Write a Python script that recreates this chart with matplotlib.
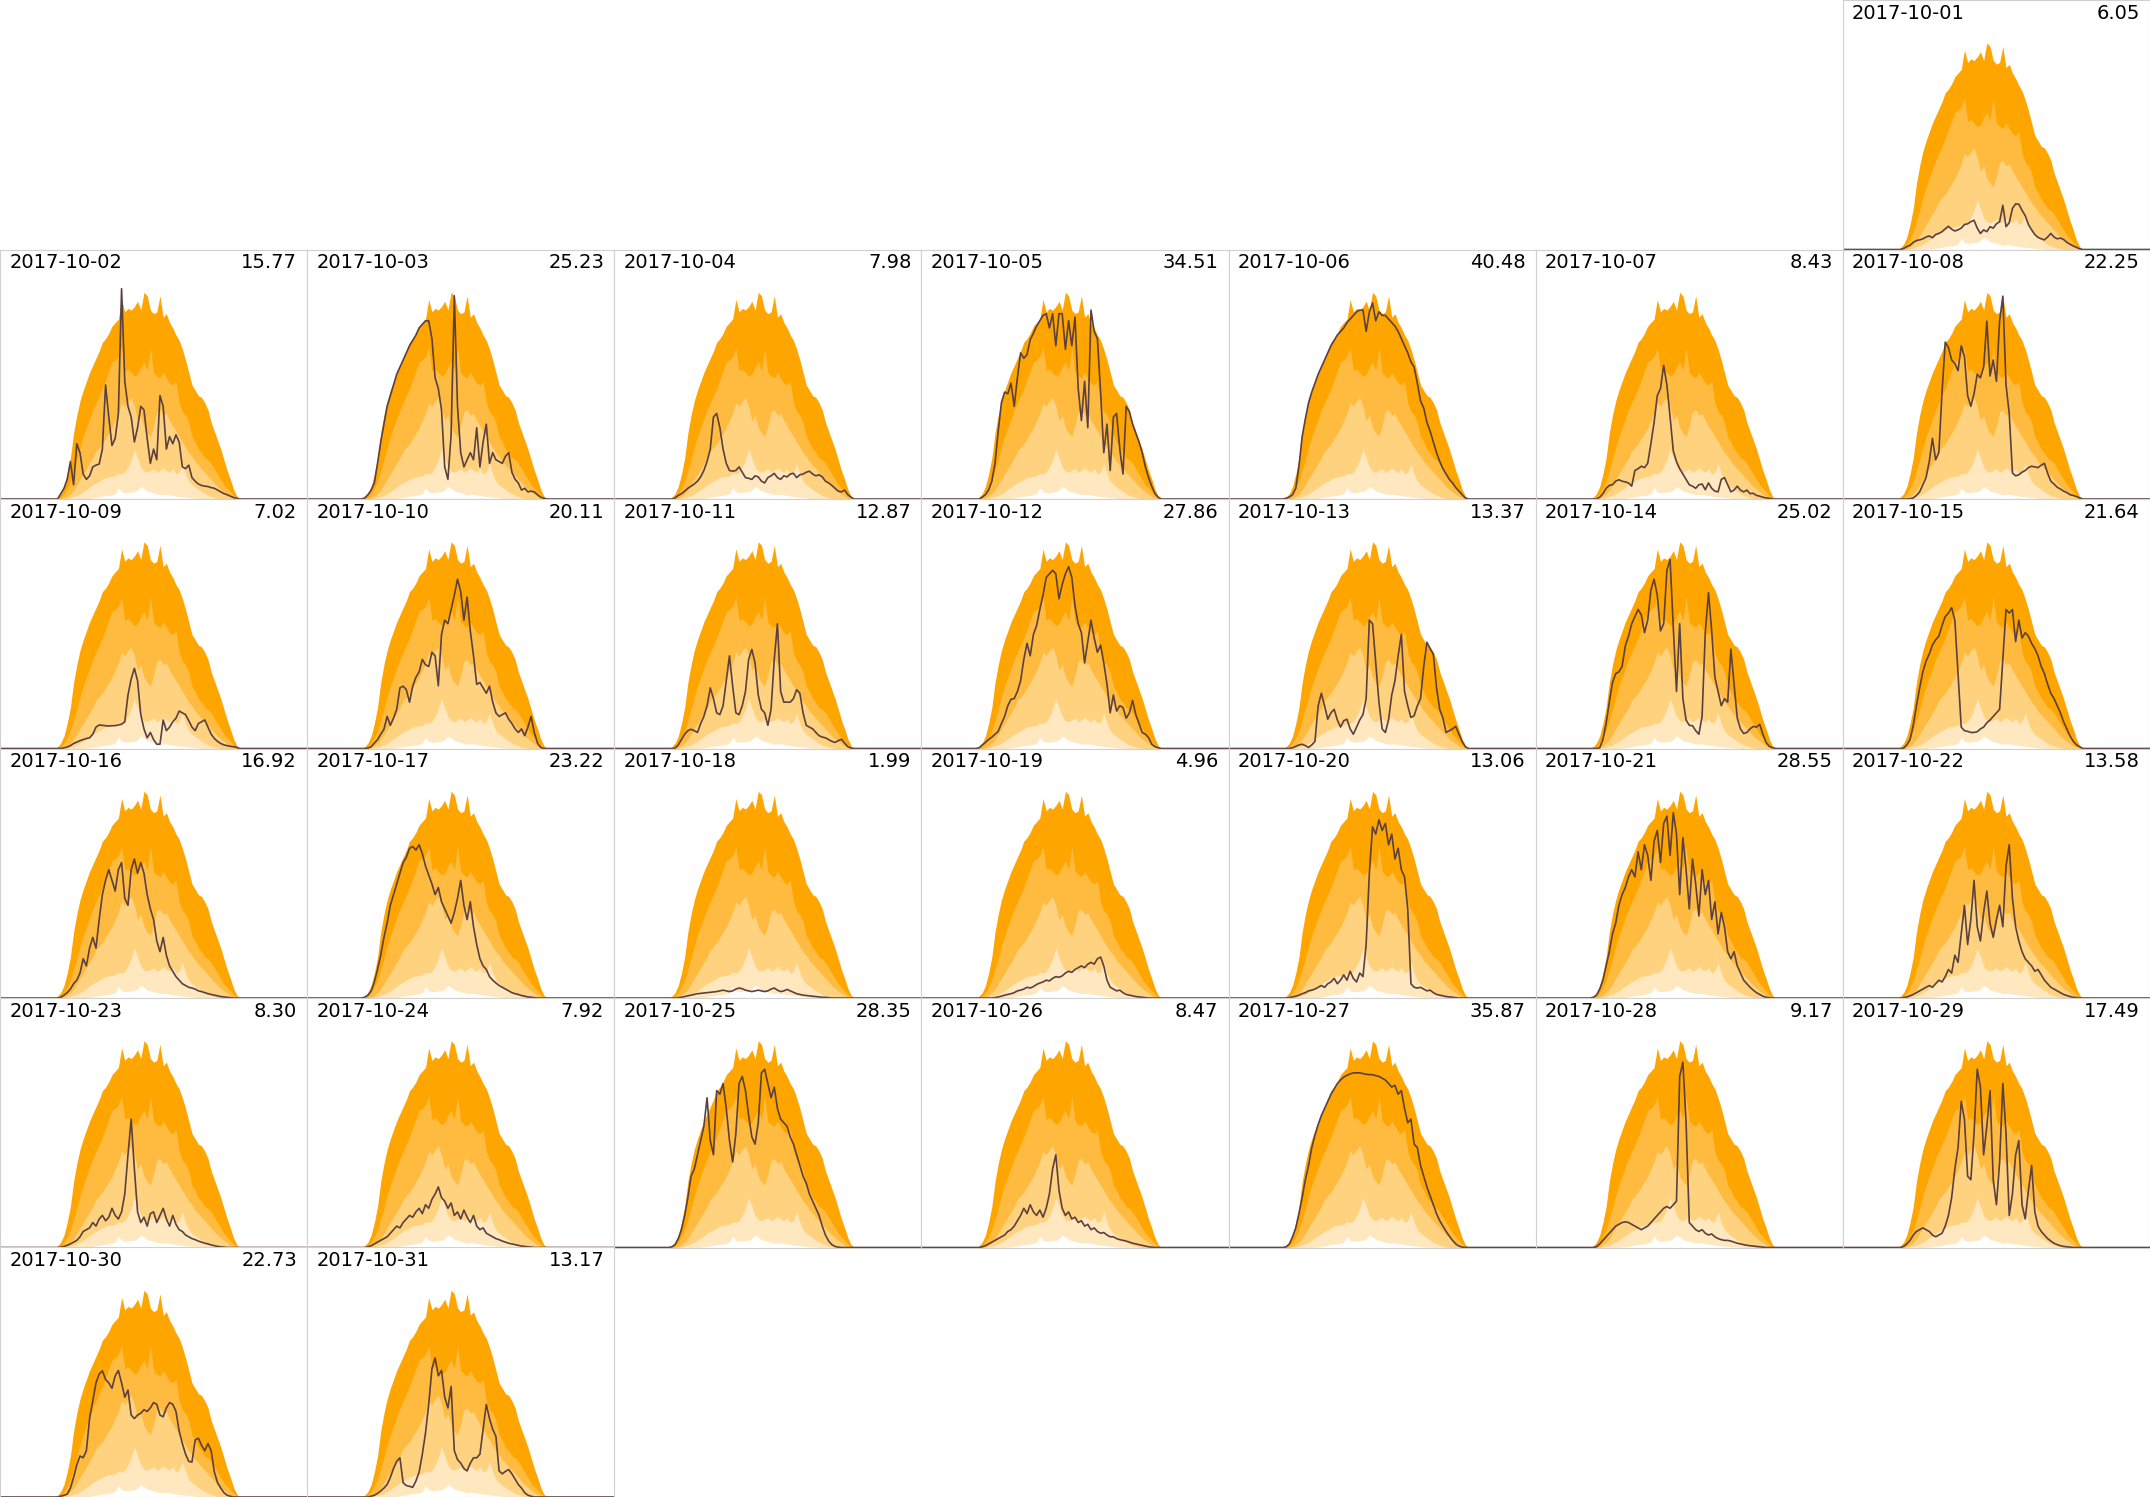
import numpy as np
import pandas as pd
import matplotlib
matplotlib.use("Agg")
import matplotlib.pyplot as plt

# 15-minute slots from 04:15 to 18:45, night is zero
hours = np.arange(4.25, 18.76, 0.25)

# climatology envelopes for October (kW), outermost first
q_top = [0.0, 0.05, 0.15, 0.35, 0.7, 1.15, 1.85, 2.35, 2.75, 3.05, 3.3,
         3.55, 3.75, 3.95, 4.15, 4.4, 4.5, 4.65, 4.85, 4.95, 5.05, 5.6, 5.25,
         5.35, 5.3, 5.4, 5.55, 5.3, 5.8, 5.7, 5.3, 5.2, 5.25, 5.7, 5.1,
         5.2, 4.95, 4.8, 4.6, 4.45, 4.2, 3.9, 3.55, 3.2, 3.05, 2.9, 2.85,
         2.7, 2.5, 2.15, 1.9, 1.65, 1.4, 1.1, 0.8, 0.55, 0.27, 0.08, 0.0]
q_high = [0.0, 0.0, 0.05, 0.15, 0.3, 0.5, 0.8, 1.1, 1.45, 1.75, 2.0,
          2.25, 2.5, 2.7, 2.9, 3.1, 3.35, 3.6, 3.85, 3.9, 4.0, 4.25, 3.6,
          3.65, 3.55, 3.45, 3.5, 3.7, 3.85, 3.6, 4.25, 3.55, 3.45, 3.4, 3.55,
          3.4, 3.25, 3.2, 3.3, 2.7, 2.45, 2.35, 2.15, 1.75, 1.6, 1.4, 1.3,
          1.15, 1.1, 1.0, 0.85, 0.7, 0.55, 0.4, 0.3, 0.2, 0.1, 0.03, 0.0]
q_mid = [0.0, 0.0, 0.0, 0.03, 0.08, 0.15, 0.25, 0.4, 0.55, 0.7, 0.85,
         1.0, 1.15, 1.35, 1.45, 1.55, 1.7, 1.85, 2.0, 2.2, 2.4, 2.7, 2.6,
         2.75, 2.85, 2.6, 2.2, 2.35, 2.0, 1.85, 1.75, 2.05, 2.45, 2.5, 2.35,
         2.4, 2.2, 2.05, 1.9, 1.75, 1.6, 1.45, 1.3, 1.2, 1.05, 0.95, 0.85,
         0.75, 0.65, 0.55, 0.45, 0.35, 0.27, 0.2, 0.13, 0.07, 0.03, 0.0, 0.0]
q_low = [0.0, 0.0, 0.0, 0.0, 0.02, 0.04, 0.07, 0.1, 0.15, 0.2, 0.27,
         0.33, 0.4, 0.45, 0.5, 0.55, 0.6, 0.62, 0.63, 0.65, 0.72, 0.7, 0.75,
         0.9, 1.1, 1.4, 1.15, 0.9, 0.78, 0.75, 0.8, 0.85, 0.75, 0.8, 0.88,
         0.8, 0.75, 0.85, 0.7, 0.75, 1.0, 0.7, 0.5, 0.4, 0.33, 0.27, 0.2,
         0.15, 0.1, 0.07, 0.04, 0.02, 0.0, 0.0, 0.0, 0.0, 0.0, 0.0, 0.0]
q_bottom = [0.0, 0.0, 0.0, 0.0, 0.0, 0.0, 0.0, 0.0, 0.0, 0.0, 0.01,
            0.02, 0.03, 0.05, 0.06, 0.08, 0.09, 0.1, 0.12, 0.15, 0.32, 0.2, 0.18,
            0.18, 0.2, 0.2, 0.25, 0.35, 0.3, 0.22, 0.2, 0.17, 0.15, 0.12, 0.13,
            0.13, 0.11, 0.1, 0.08, 0.07, 0.06, 0.05, 0.04, 0.03, 0.02, 0.01, 0.01,
            0.0, 0.0, 0.0, 0.0, 0.0, 0.0, 0.0, 0.0, 0.0, 0.0, 0.0, 0.0]

# measured output per day (kW)
oct01 = [0, 0, 0.03, 0.08, 0.12, 0.2, 0.25, 0.27, 0.3, 0.35, 0.38,
         0.33, 0.42, 0.45, 0.5, 0.58, 0.65, 0.57, 0.52, 0.55, 0.6, 0.7, 0.72,
         0.78, 0.82, 0.6, 0.45, 0.55, 0.5, 0.64, 0.6, 0.72, 0.78, 1.24, 0.64,
         0.75, 1.15, 1.28, 1.27, 1.1, 0.95, 0.7, 0.55, 0.42, 0.34, 0.3, 0.27,
         0.35, 0.45, 0.35, 0.3, 0.32, 0.28, 0.2, 0.15, 0.1, 0.06, 0.02, 0]
oct02 = [0, 0, 0.15, 0.3, 0.55, 1.05, 0.4, 1.55, 1.3, 0.7, 0.55,
         0.65, 0.9, 0.95, 0.98, 1.4, 3.2, 2.3, 1.5, 1.7, 2.4, 5.9, 3.3,
         2.6, 2.3, 1.6, 2.0, 2.6, 2.5, 1.7, 1.0, 1.4, 1.1, 2.9, 2.6,
         1.4, 1.75, 1.55, 1.8, 1.6, 0.9, 0.85, 0.95, 0.6, 0.5, 0.42, 0.38,
         0.36, 0.35, 0.32, 0.3, 0.25, 0.2, 0.15, 0.12, 0.08, 0.04, 0.02, 0]
oct03 = [0, 0.03, 0.12, 0.25, 0.45, 1.0, 1.6, 2.1, 2.6, 2.9, 3.2,
         3.5, 3.7, 3.9, 4.1, 4.3, 4.45, 4.6, 4.8, 4.9, 5.0, 5.0, 4.5,
         3.4, 3.1, 2.5, 0.9, 0.55, 1.8, 5.7, 2.6, 1.3, 0.9, 1.1, 1.3,
         1.1, 2.0, 0.9, 1.6, 2.1, 1.0, 1.3, 1.1, 1.05, 1.0, 1.2, 1.3,
         0.75, 0.55, 0.45, 0.25, 0.3, 0.2, 0.22, 0.2, 0.12, 0.05, 0.02, 0]
oct04 = [0, 0, 0.03, 0.1, 0.15, 0.22, 0.3, 0.36, 0.42, 0.5, 0.62,
         0.8, 1.05, 1.4, 2.3, 2.4, 2.0, 1.4, 1.0, 0.8, 0.78, 0.8, 0.9,
         0.75, 0.6, 0.58, 0.55, 0.65, 0.62, 0.5, 0.45, 0.6, 0.65, 0.72, 0.6,
         0.55, 0.65, 0.62, 0.7, 0.72, 0.6, 0.68, 0.7, 0.75, 0.78, 0.7, 0.65,
         0.68, 0.62, 0.5, 0.45, 0.38, 0.3, 0.22, 0.2, 0.25, 0.12, 0.05, 0]
oct05 = [0, 0, 0.05, 0.12, 0.25, 0.5, 1.0, 1.9, 2.7, 3.0, 2.95,
         3.25, 2.6, 3.4, 4.1, 3.95, 4.05, 4.47, 4.65, 4.85, 5.0, 5.15, 5.2,
         4.8, 5.2, 4.3, 5.2, 5.2, 4.2, 5.0, 4.3, 5.1, 3.1, 2.2, 3.3,
         2.0, 5.3, 4.7, 4.5, 3.0, 1.3, 2.1, 0.8, 2.3, 2.4, 1.4, 0.7,
         2.6, 2.45, 2.1, 1.85, 1.6, 1.3, 0.9, 0.6, 0.35, 0.15, 0.05, 0]
oct06 = [0, 0.02, 0.06, 0.12, 0.3, 0.92, 1.75, 2.25, 2.7, 3.0, 3.25,
         3.5, 3.7, 3.9, 4.1, 4.3, 4.45, 4.6, 4.7, 4.8, 4.95, 5.05, 5.15,
         5.25, 5.3, 5.3, 4.7, 5.25, 5.5, 5.0, 5.25, 5.15, 5.15, 5.05, 4.95,
         4.85, 4.7, 4.5, 4.3, 4.1, 3.85, 3.7, 3.25, 2.75, 2.55, 2.15, 1.9,
         1.6, 1.3, 1.05, 0.85, 0.7, 0.55, 0.45, 0.32, 0.22, 0.12, 0.03, 0]
oct07 = [0, 0, 0, 0.05, 0.15, 0.3, 0.38, 0.4, 0.5, 0.54, 0.5,
         0.48, 0.45, 0.36, 0.8, 0.85, 0.92, 0.88, 1.0, 1.55, 2.15, 2.9, 3.1,
         3.75, 3.2, 2.3, 1.35, 1.05, 0.85, 0.7, 0.55, 0.4, 0.36, 0.3, 0.4,
         0.42, 0.26, 0.45, 0.3, 0.22, 0.2, 0.55, 0.6, 0.4, 0.2, 0.25, 0.36,
         0.25, 0.2, 0.25, 0.15, 0.16, 0.1, 0.08, 0.05, 0.03, 0.02, 0, 0]
oct08 = [0, 0, 0, 0, 0.01, 0.03, 0.1, 0.2, 0.4, 0.6, 1.05,
         1.7, 1.1, 1.3, 3.0, 4.4, 4.25, 3.9, 3.8, 3.6, 4.3, 4.0, 2.9,
         2.6, 2.95, 3.5, 3.4, 3.7, 4.99, 3.45, 3.9, 3.3, 5.0, 5.69, 3.2,
         2.4, 0.73, 0.65, 0.68, 0.75, 0.8, 0.88, 0.92, 0.9, 0.88, 0.95, 1.0,
         0.72, 0.5, 0.42, 0.33, 0.28, 0.22, 0.18, 0.12, 0.1, 0.07, 0.03, 0]
oct09 = [0, 0, 0, 0.02, 0.04, 0.08, 0.14, 0.18, 0.22, 0.25, 0.28,
         0.3, 0.4, 0.6, 0.66, 0.65, 0.64, 0.63, 0.64, 0.64, 0.66, 0.68, 0.75,
         1.5, 1.95, 2.25, 1.9, 0.95, 0.55, 0.3, 0.45, 0.25, 0.12, 0.12, 0.8,
         0.5, 0.6, 0.75, 0.85, 1.05, 1.0, 0.95, 0.78, 0.6, 0.5, 0.7, 0.75,
         0.8, 0.6, 0.4, 0.28, 0.2, 0.14, 0.1, 0.08, 0.06, 0.05, 0.03, 0]
oct10 = [0, 0, 0.01, 0.05, 0.15, 0.25, 0.4, 0.54, 0.9, 0.65, 0.85,
         1.1, 1.7, 1.75, 1.65, 1.3, 1.75, 2.0, 2.15, 2.5, 2.35, 2.3, 2.7,
         2.6, 1.76, 3.2, 3.6, 3.5, 3.9, 4.3, 4.75, 4.4, 3.6, 4.25, 3.3,
         2.6, 1.8, 1.85, 1.7, 1.55, 1.75, 1.3, 1.0, 0.9, 0.95, 1.0, 0.82,
         0.7, 0.55, 0.45, 0.55, 0.36, 0.6, 0.9, 0.45, 0.15, 0.03, 0, 0]
oct11 = [0, 0, 0.01, 0.1, 0.25, 0.4, 0.5, 0.54, 0.5, 0.45, 0.7,
         0.9, 1.2, 1.7, 1.4, 1.0, 0.95, 1.2, 1.9, 2.6, 1.75, 1.0, 0.95,
         1.2, 1.6, 2.5, 2.78, 2.4, 1.5, 1.1, 1.0, 0.65, 1.1, 2.5, 3.5,
         1.6, 1.3, 1.3, 1.3, 1.4, 1.65, 1.55, 1.0, 0.65, 0.6, 0.55, 0.45,
         0.36, 0.32, 0.3, 0.25, 0.2, 0.17, 0.22, 0.26, 0.15, 0.05, 0.01, 0]
oct12 = [0, 0.02, 0.1, 0.17, 0.25, 0.32, 0.4, 0.48, 0.7, 0.9, 1.2,
         1.38, 1.4, 1.6, 1.9, 2.5, 2.95, 2.6, 3.2, 3.45, 3.9, 4.3, 4.8,
         4.9, 5.0, 4.9, 4.2, 4.6, 4.9, 5.1, 4.8, 4.0, 3.5, 3.25, 2.4,
         3.0, 3.6, 3.1, 2.7, 2.9, 2.4, 1.8, 1.0, 1.5, 1.05, 1.2, 1.15,
         0.85, 1.0, 1.35, 0.95, 0.7, 0.45, 0.4, 0.3, 0.12, 0.05, 0.02, 0]
oct13 = [0, 0, 0, 0.02, 0.06, 0.1, 0.12, 0.08, 0.03, 0.1, 0.2,
         1.2, 1.55, 1.2, 0.82, 1.0, 1.1, 0.8, 0.6, 0.78, 0.82, 0.55, 0.4,
         0.6, 0.8, 0.95, 1.4, 3.6, 3.5, 2.4, 1.3, 0.55, 0.45, 0.8, 1.5,
         1.9, 2.6, 3.2, 1.6, 1.2, 0.87, 0.92, 1.2, 1.4, 2.3, 2.98, 2.8,
         2.65, 1.7, 1.1, 0.85, 0.45, 0.5, 0.55, 0.62, 0.4, 0.2, 0.05, 0]
oct14 = [0, 0, 0, 0.02, 0.25, 0.7, 1.3, 1.85, 2.1, 2.15, 2.3,
         2.88, 3.15, 3.5, 3.7, 3.9, 3.75, 3.25, 3.6, 4.45, 4.75, 4.3, 3.3,
         3.5, 5.0, 5.3, 3.4, 1.6, 3.5, 1.4, 0.8, 0.65, 0.64, 0.5, 0.4,
         0.9, 3.25, 4.37, 3.3, 2.0, 1.6, 1.2, 1.4, 1.3, 2.79, 1.8, 0.85,
         0.55, 0.42, 0.45, 0.55, 0.62, 0.6, 0.68, 0.4, 0.17, 0.06, 0.02, 0]
oct15 = [0, 0, 0.01, 0.1, 0.25, 0.65, 1.2, 1.7, 2.15, 2.45, 2.65,
         2.9, 3.05, 3.15, 3.45, 3.7, 3.8, 3.95, 3.6, 2.1, 0.6, 0.5, 0.48,
         0.45, 0.45, 0.47, 0.55, 0.6, 0.72, 0.8, 0.9, 1.0, 1.1, 2.5, 3.9,
         3.8, 3.9, 3.0, 3.6, 3.1, 3.25, 3.15, 2.95, 2.8, 2.6, 2.3, 2.1,
         1.8, 1.55, 1.4, 1.2, 1.0, 0.75, 0.55, 0.35, 0.2, 0.1, 0.05, 0]
oct16 = [0, 0, 0.02, 0.08, 0.15, 0.25, 0.4, 0.5, 0.7, 1.1, 0.9,
         1.4, 1.7, 1.4, 2.2, 2.9, 3.3, 3.6, 3.3, 3.0, 3.6, 3.8, 2.8,
         2.6, 3.6, 3.9, 3.5, 3.8, 3.5, 2.9, 2.5, 2.2, 1.6, 1.3, 1.7,
         1.2, 0.9, 0.75, 0.6, 0.5, 0.4, 0.35, 0.3, 0.28, 0.25, 0.2, 0.18,
         0.15, 0.12, 0.1, 0.08, 0.06, 0.04, 0.03, 0.02, 0.01, 0, 0, 0]
oct17 = [0, 0.02, 0.08, 0.2, 0.45, 0.8, 1.2, 1.7, 2.1, 2.6, 2.9,
         3.2, 3.5, 3.8, 3.95, 4.2, 4.25, 4.15, 4.3, 4.05, 3.7, 3.45, 3.2,
         2.9, 3.1, 2.7, 2.5, 2.3, 2.1, 2.4, 2.8, 3.3, 2.6, 2.2, 2.7,
         2.0, 1.5, 1.1, 0.9, 0.8, 0.6, 0.5, 0.42, 0.35, 0.3, 0.25, 0.2,
         0.15, 0.12, 0.1, 0.07, 0.05, 0.03, 0.02, 0.01, 0, 0, 0, 0]
oct18 = [0, 0, 0, 0.01, 0.02, 0.04, 0.06, 0.08, 0.1, 0.12, 0.13,
         0.14, 0.15, 0.16, 0.17, 0.18, 0.2, 0.22, 0.2, 0.18, 0.2, 0.25, 0.28,
         0.26, 0.22, 0.2, 0.18, 0.2, 0.22, 0.2, 0.18, 0.2, 0.25, 0.28, 0.22,
         0.18, 0.2, 0.24, 0.2, 0.16, 0.12, 0.1, 0.08, 0.07, 0.06, 0.05, 0.04,
         0.03, 0.02, 0.02, 0.01, 0, 0, 0, 0, 0, 0, 0, 0]
oct19 = [0, 0, 0, 0, 0, 0, 0.01, 0.03, 0.05, 0.08, 0.1,
         0.12, 0.15, 0.2, 0.22, 0.25, 0.3, 0.28, 0.32, 0.38, 0.42, 0.45, 0.5,
         0.48, 0.55, 0.6, 0.58, 0.62, 0.7, 0.75, 0.72, 0.8, 0.85, 0.9, 0.85,
         0.95, 1.0, 0.95, 1.1, 1.15, 0.9, 0.5, 0.3, 0.25, 0.2, 0.22, 0.15,
         0.1, 0.08, 0.06, 0.04, 0.03, 0.02, 0.01, 0, 0, 0, 0, 0]
oct20 = [0, 0, 0.01, 0.03, 0.05, 0.08, 0.12, 0.15, 0.2, 0.22, 0.25,
         0.3, 0.35, 0.3, 0.4, 0.45, 0.55, 0.4, 0.5, 0.65, 0.5, 0.75, 0.55,
         0.45, 0.7, 0.6, 1.5, 3.5, 4.8, 4.6, 5.0, 4.7, 4.9, 4.3, 4.6,
         3.9, 4.2, 3.6, 3.4, 2.5, 0.4, 0.3, 0.28, 0.3, 0.25, 0.2, 0.22,
         0.15, 0.1, 0.08, 0.06, 0.04, 0.03, 0.02, 0.01, 0, 0, 0, 0]
oct21 = [0, 0.02, 0.08, 0.25, 0.5, 0.9, 1.3, 1.8, 2.1, 2.6, 2.9,
         3.1, 3.4, 3.6, 3.4, 4.1, 3.6, 4.3, 4.0, 3.3, 4.4, 4.7, 3.8,
         4.9, 5.1, 4.0, 5.2, 4.6, 2.9, 4.5, 3.6, 2.5, 3.9, 3.2, 2.3,
         3.6, 2.9, 3.3, 2.2, 2.7, 1.8, 2.4, 2.0, 1.3, 1.1, 1.3, 0.9,
         0.7, 0.5, 0.4, 0.3, 0.22, 0.15, 0.1, 0.05, 0.02, 0.01, 0, 0]
oct22 = [0, 0, 0.01, 0.03, 0.06, 0.1, 0.15, 0.2, 0.25, 0.3, 0.35,
         0.3, 0.4, 0.5, 0.45, 0.6, 0.8, 0.7, 1.2, 1.0, 1.8, 2.6, 1.5,
         2.2, 3.3, 2.0, 1.6, 2.4, 3.0, 2.1, 1.7, 2.2, 2.6, 2.0, 3.7,
         4.3, 2.8, 2.0, 1.6, 1.3, 1.1, 1.0, 0.9, 0.75, 0.8, 0.65, 0.5,
         0.4, 0.3, 0.25, 0.2, 0.15, 0.1, 0.07, 0.04, 0.02, 0.01, 0, 0]
oct23 = [0, 0, 0.01, 0.03, 0.06, 0.1, 0.15, 0.2, 0.3, 0.45, 0.5,
         0.55, 0.7, 0.6, 0.8, 0.9, 0.75, 0.85, 1.1, 0.9, 0.8, 1.0, 1.5,
         2.6, 3.6, 2.2, 1.0, 0.7, 0.85, 0.6, 0.95, 1.0, 0.7, 0.9, 1.1,
         0.8, 0.6, 0.9, 0.65, 0.5, 0.45, 0.35, 0.3, 0.25, 0.22, 0.18, 0.15,
         0.12, 0.1, 0.07, 0.05, 0.03, 0.02, 0.01, 0, 0, 0, 0, 0]
oct24 = [0, 0, 0.02, 0.05, 0.1, 0.15, 0.2, 0.25, 0.3, 0.4, 0.5,
         0.6, 0.55, 0.7, 0.8, 0.9, 0.85, 1.0, 1.1, 0.95, 1.2, 1.1, 1.35,
         1.5, 1.7, 1.4, 1.3, 1.1, 1.25, 0.9, 1.0, 0.8, 1.05, 0.85, 0.7,
         0.9, 0.6, 0.5, 0.55, 0.4, 0.35, 0.3, 0.25, 0.22, 0.18, 0.15, 0.12,
         0.1, 0.08, 0.06, 0.04, 0.03, 0.02, 0.01, 0, 0, 0, 0, 0]
oct25 = [0, 0.02, 0.08, 0.25, 0.5, 0.9, 1.4, 2.0, 2.2, 2.6, 3.0,
         3.4, 4.2, 3.0, 2.6, 4.4, 4.3, 4.6, 3.9, 3.0, 2.4, 3.2, 4.6,
         4.8, 4.4, 3.7, 3.1, 2.9, 3.5, 4.9, 5.0, 4.6, 4.2, 4.5, 3.9,
         3.6, 3.5, 3.4, 3.1, 2.9, 2.6, 2.3, 2.0, 1.8, 1.5, 1.3, 1.1,
         0.9, 0.6, 0.35, 0.18, 0.08, 0.03, 0.01, 0, 0, 0, 0, 0]
oct26 = [0, 0, 0.02, 0.05, 0.1, 0.15, 0.2, 0.25, 0.3, 0.35, 0.45,
         0.5, 0.6, 0.75, 0.9, 1.1, 0.95, 1.2, 1.0, 0.9, 1.05, 0.85, 1.1,
         1.5, 2.2, 2.6, 1.6, 1.1, 0.9, 1.0, 0.8, 0.85, 0.7, 0.75, 0.6,
         0.65, 0.5, 0.55, 0.45, 0.4, 0.42, 0.35, 0.3, 0.3, 0.25, 0.22, 0.2,
         0.18, 0.15, 0.12, 0.1, 0.08, 0.06, 0.04, 0.02, 0.01, 0, 0, 0]
oct27 = [0, 0.02, 0.1, 0.3, 0.55, 0.95, 1.4, 1.9, 2.3, 2.8, 3.15,
         3.45, 3.7, 3.9, 4.1, 4.3, 4.45, 4.6, 4.7, 4.78, 4.83, 4.87, 4.9,
         4.9, 4.9, 4.88, 4.86, 4.85, 4.85, 4.82, 4.8, 4.75, 4.7, 4.6, 4.5,
         4.55, 4.3, 4.4, 3.9, 3.5, 3.6, 2.9, 2.8, 2.3, 2.0, 1.7, 1.45,
         1.2, 0.95, 0.75, 0.6, 0.45, 0.32, 0.2, 0.1, 0.04, 0.01, 0, 0]
oct28 = [0, 0, 0.02, 0.1, 0.2, 0.3, 0.4, 0.5, 0.6, 0.65, 0.7,
         0.72, 0.7, 0.65, 0.6, 0.55, 0.5, 0.55, 0.6, 0.7, 0.8, 0.9, 1.0,
         1.1, 1.15, 1.1, 1.2, 1.3, 4.8, 5.2, 3.5, 0.7, 0.6, 0.5, 0.45,
         0.5, 0.4, 0.35, 0.38, 0.3, 0.25, 0.22, 0.2, 0.2, 0.18, 0.15, 0.12,
         0.1, 0.08, 0.06, 0.05, 0.04, 0.03, 0.02, 0.01, 0, 0, 0, 0]
oct29 = [0, 0, 0.03, 0.1, 0.2, 0.35, 0.45, 0.5, 0.55, 0.5, 0.45,
         0.35, 0.3, 0.35, 0.4, 0.6, 0.9, 1.4, 2.2, 2.8, 4.1, 3.6, 2.0,
         1.9, 3.2, 5.0, 4.5, 2.6, 3.4, 4.4, 1.9, 1.2, 2.4, 4.6, 3.2,
         0.9, 1.5, 2.6, 3.0, 1.2, 0.8, 1.6, 2.3, 1.0, 0.6, 0.45, 0.35,
         0.25, 0.18, 0.12, 0.08, 0.05, 0.03, 0.02, 0.01, 0, 0, 0, 0]
oct30 = [0, 0, 0.02, 0.05, 0.08, 0.25, 0.55, 0.9, 1.15, 1.1, 1.3,
         2.2, 2.7, 3.2, 3.45, 3.54, 3.3, 3.2, 3.05, 3.4, 3.55, 3.2, 2.8,
         3.0, 2.3, 2.2, 2.3, 2.35, 2.45, 2.4, 2.5, 2.65, 2.6, 2.3, 2.25,
         2.5, 2.65, 2.6, 2.4, 1.85, 1.5, 1.2, 1.0, 0.98, 1.6, 1.65, 1.45,
         1.3, 1.5, 1.3, 0.7, 0.4, 0.25, 0.12, 0.05, 0.02, 0, 0, 0]
oct31 = [0, 0, 0, 0.02, 0.05, 0.1, 0.17, 0.25, 0.35, 0.55, 0.8,
         1.0, 1.1, 0.4, 0.32, 0.3, 0.27, 0.45, 0.7, 1.2, 1.8, 2.6, 3.6,
         3.9, 3.4, 3.55, 2.8, 2.5, 3.1, 1.3, 1.05, 0.95, 0.8, 0.73, 0.95,
         1.1, 1.1, 1.2, 1.9, 2.6, 2.2, 1.9, 1.7, 0.73, 0.65, 0.72, 0.77,
         0.65, 0.5, 0.35, 0.25, 0.12, 0.05, 0.02, 0, 0, 0, 0, 0]

# daily energy (kWh) shown in the corner
daily_total = [6.05, 15.77, 25.23, 7.98, 34.51, 40.48, 8.43, 22.25, 7.02, 20.11,
               12.87, 27.86, 13.37, 25.02, 21.64, 16.92, 23.22, 1.99, 4.96, 13.06,
               28.55, 13.58, 8.30, 7.92, 28.35, 8.47, 35.87, 9.17, 17.49, 22.73,
               13.17]

days = [oct01, oct02, oct03, oct04, oct05, oct06, oct07, oct08, oct09, oct10,
        oct11, oct12, oct13, oct14, oct15, oct16, oct17, oct18, oct19, oct20,
        oct21, oct22, oct23, oct24, oct25, oct26, oct27, oct28, oct29, oct30,
        oct31]
bands = [q_top, q_high, q_mid, q_low, q_bottom]
band_colors = ["#ffa500", "#ffbb40", "#ffd280", "#ffe8bf", "#ffffff"]

for name, v in zip(["band%d" % i for i in range(5)] + ["day%d" % (i + 1) for i in range(31)], bands + days):
    if len(v) != len(hours):
        raise ValueError(f"{name} has {len(v)} values, expected {len(hours)}")


def pad(v):
    # zero output before sunrise and after sunset
    return np.r_[0.0, v, 0.0]


t = np.r_[0.0, hours, 24.0]
dates = pd.date_range("2017-10-01", "2017-10-31")

fig = plt.figure(figsize=(21.5, 14.97), dpi=100)
gs = fig.add_gridspec(6, 7, left=0, right=1, bottom=0, top=1, wspace=0, hspace=0)

first = dates[0].weekday()  # calendar starts on monday
for i, (d, vals, total) in enumerate(zip(dates, days, daily_total)):
    pos = first + i
    ax = fig.add_subplot(gs[pos // 7, pos % 7])

    for q, c in zip(bands, band_colors):
        ax.fill_between(t, 0, pad(q), color=c, linewidth=0)
    ax.plot(t, pad(vals), color="#5b4040", linewidth=1.2)

    ax.set_xlim(0, 24)
    ax.set_ylim(0, 7)
    ax.set_xticks([])
    ax.set_yticks([])
    for s in ax.spines.values():
        s.set_color("#d0d0d0")

    ax.text(0.03, 0.985, d.strftime("%Y-%m-%d"), transform=ax.transAxes,
            ha="left", va="top", fontsize=14)
    ax.text(0.967, 0.985, f"{total:.2f}", transform=ax.transAxes,
            ha="right", va="top", fontsize=14)

fig.savefig("out.png", dpi=100)
